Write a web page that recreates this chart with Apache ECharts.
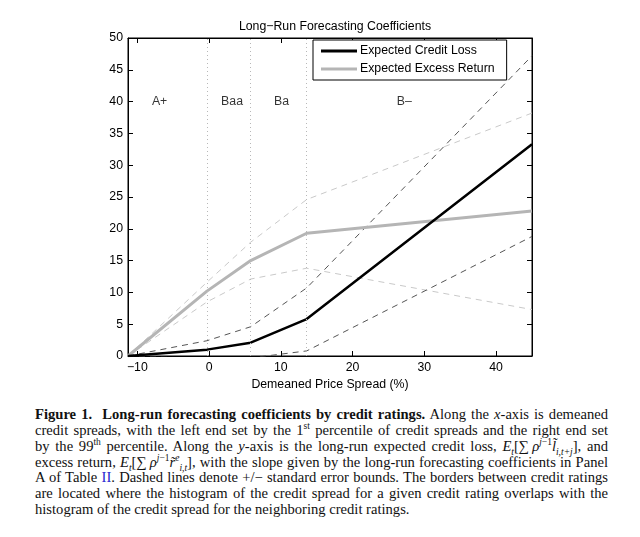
<!DOCTYPE html>
<html>
<head>
<meta charset="utf-8">
<script src="https://cdn.jsdelivr.net/npm/echarts@6/dist/echarts.min.js"></script>
<style>
  html, body { margin: 0; padding: 0; background: #fff; }
  #chart { position: absolute; left: 0; top: 0; width: 640px; height: 400px; }
  #caption { position: absolute; left: 35px; top: 407px; width: 573px;
    font-family: "Liberation Serif", "Times New Roman", serif; font-size: 14.6px; color: #111; }
  #caption .ln { height: 15.85px; line-height: 15.85px; white-space: nowrap; text-align: justify; text-align-last: justify; }
  #caption .ln.last { text-align: left; text-align-last: left; }
  #caption sup, #caption sub { font-size: 9.5px; line-height: 0; }
  #caption .blue { color: #1f1fd0; }
</style>
</head>
<body>
<div id="chart"></div>
<div id="caption">
  <div class="ln"><b>Figure 1.&nbsp; Long-run forecasting coefficients by credit ratings.</b> Along the <i>x</i>-axis is demeaned</div>
  <div class="ln">credit spreads, with the left end set by the 1<sup>st</sup> percentile of credit spreads and the right end set</div>
  <div class="ln">by the 99<sup>th</sup> percentile. Along the <i>y</i>-axis is the long-run expected credit loss, <i>E<sub>t</sub></i>[∑&thinsp;<i>ρ</i><sup><i>j</i>−1</sup><i>l̃</i><sub><i>i,t+j</i></sub>], and</div>
  <div class="ln">excess return, <i>E<sub>t</sub></i>[∑&thinsp;<i>ρ</i><sup><i>j</i>−1</sup><i>r̃</i><sup><i>e</i></sup><sub><i>i,t</i></sub>], with the slope given by the long-run forecasting coefficients in Panel</div>
  <div class="ln">A of Table <span class="blue">II</span>. Dashed lines denote +/− standard error bounds. The borders between credit ratings</div>
  <div class="ln">are located where the histogram of the credit spread for a given credit rating overlaps with the</div>
  <div class="ln last">histogram of the credit spread for the neighboring credit ratings.</div>
</div>
<script>
// ---- data ----
var spreadX = [-11.3, -0.3, 5.8, 13.6, 45];
var creditLoss = [0, 1.0, 2.1, 5.8, 33.3];
var creditLossUpper = [0, 2.4, 4.6, 10.7, 47.2];
var creditLossLower = [0, -0.4, -0.3, 0.8, 18.8];
var excessReturn = [0, 10.2, 15.0, 19.3, 22.8];
var excessReturnUpper = [0, 11.6, 17.9, 24.6, 38.2];
var excessReturnLower = [0, 8.5, 12.1, 13.8, 7.3];
var ratingBorders = [-0.3, 5.8, 13.6];
var ratingLabels = ['A+', 'Baa', 'Ba', 'B\u2013'];
var ratingLabelX = [-6.9, 3.2, 10.1, 27.2];
var ratingLabelY = 40;
var xTicks = [-10, 0, 10, 20, 30, 40];
var xMin = -11.3, xMax = 45;
var yMin = 0, yMax = 50, yStep = 5;

function pairs(ys) { return spreadX.map(function (x, i) { return [x, ys[i]]; }); }
function minus(v) { return String(v).replace('-', '\u2212'); }

var font = '"Liberation Sans", Arial, Helvetica, sans-serif';
var chart = echarts.init(document.getElementById('chart'), null, { renderer: 'canvas' });

var axisLineStyle = { color: '#000', width: 1 };
var option = {
  animation: false,
  backgroundColor: '#fff',
  textStyle: { fontFamily: font },
  title: {
    text: 'Long\u2212Run Forecasting Coefficients',
    left: 330, top: 16, textAlign: 'center',
    textStyle: { fontFamily: font, fontSize: 12.3, fontWeight: 'normal', color: '#000' }
  },
  grid: { left: 128, right: 108, top: 38, bottom: 44, show: true, borderColor: '#000', borderWidth: 1, backgroundColor: 'transparent' },
  legend: {
    data: [
      { name: 'Expected Credit Loss', icon: 'rect', itemStyle: { color: '#000' } },
      { name: 'Expected Excess Return', icon: 'rect', itemStyle: { color: '#b5b5b5' } }
    ],
    orient: 'vertical', left: 313, top: 40,
    itemWidth: 36, itemHeight: 3, itemGap: 4,
    padding: [4, 12, 4, 8],
    borderColor: '#000', borderWidth: 1, backgroundColor: '#fff',
    textStyle: { fontFamily: font, fontSize: 12.3, color: '#000', padding: [0, 0, 0, -2], lineHeight: 14 }
  },
  xAxis: [{
    type: 'value', min: xMin, max: xMax, position: 'bottom',
    axisLine: { onZero: false, lineStyle: axisLineStyle },
    axisTick: { inside: true, length: 5, lineStyle: axisLineStyle, customValues: xTicks },
    axisLabel: { customValues: xTicks, formatter: minus, fontFamily: font, fontSize: 12.3, color: '#000', margin: 6 },
    splitLine: { show: false },
    name: 'Demeaned Price Spread (%)', nameLocation: 'middle', nameGap: 20,
    nameTextStyle: { fontFamily: font, fontSize: 12.3, color: '#000' }
  }, {
    type: 'value', min: xMin, max: xMax, position: 'top',
    axisLine: { onZero: false, lineStyle: axisLineStyle },
    axisTick: { inside: true, length: 5, lineStyle: axisLineStyle, customValues: xTicks },
    axisLabel: { show: false },
    splitLine: { show: false }
  }],
  yAxis: [{
    type: 'value', min: yMin, max: yMax, interval: yStep, position: 'left',
    axisLine: { show: true, onZero: false, lineStyle: axisLineStyle },
    axisTick: { show: true, inside: true, length: 5, lineStyle: axisLineStyle },
    axisLabel: { fontFamily: font, fontSize: 12.3, color: '#000', margin: 5 },
    splitLine: { show: false }
  }, {
    type: 'value', min: yMin, max: yMax, interval: yStep, position: 'right',
    axisLine: { show: true, onZero: false, lineStyle: axisLineStyle },
    axisTick: { show: true, inside: true, length: 5, lineStyle: axisLineStyle },
    axisLabel: { show: false },
    splitLine: { show: false }
  }],
  series: [
    {
      name: 'borders', type: 'line', data: [], silent: true,
      markLine: {
        silent: true, symbol: 'none', label: { show: false },
        lineStyle: { type: [1, 3], color: '#b8b8b8', width: 1 },
        data: ratingBorders.map(function (v) { return { xAxis: v }; })
      }
    },
    {
      name: 'ratings', type: 'scatter', symbolSize: 0, silent: true,
      data: ratingLabels.map(function (n, i) { return { name: n, value: [ratingLabelX[i], ratingLabelY] }; }),
      label: { show: true, position: 'inside', formatter: '{b}', fontFamily: font, fontSize: 12.3, color: '#000' }
    },
    { name: 'Excess Upper', type: 'line', data: pairs(excessReturnUpper), symbol: 'none', z: 2,
      lineStyle: { color: '#c9c9c9', width: 1, type: [6, 5] } },
    { name: 'Excess Lower', type: 'line', data: pairs(excessReturnLower), symbol: 'none', z: 2,
      lineStyle: { color: '#c9c9c9', width: 1, type: [6, 5] } },
    { name: 'Loss Upper', type: 'line', data: pairs(creditLossUpper), symbol: 'none', z: 2,
      lineStyle: { color: '#555', width: 1, type: [6, 5] } },
    { name: 'Loss Lower', type: 'line', data: pairs(creditLossLower), symbol: 'none', z: 2,
      lineStyle: { color: '#555', width: 1, type: [6, 5] } },
    { name: 'Expected Excess Return', type: 'line', data: pairs(excessReturn), symbol: 'none', z: 3,
      lineStyle: { color: '#b5b5b5', width: 3 }, itemStyle: { color: '#b5b5b5' } },
    { name: 'Expected Credit Loss', type: 'line', data: pairs(creditLoss), symbol: 'none', z: 4,
      lineStyle: { color: '#000', width: 2.5 }, itemStyle: { color: '#000' } }
  ]
};
chart.setOption(option);
</script>
</body>
</html>
